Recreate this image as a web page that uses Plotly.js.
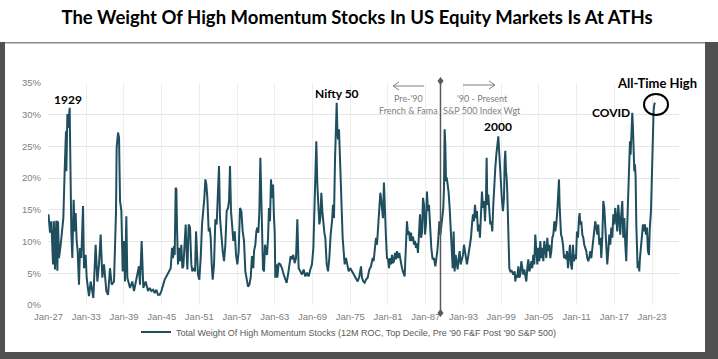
<!DOCTYPE html>
<html>
<head>
<meta charset="utf-8">
<script src="https://cdn.plot.ly/plotly-3.0.1.min.js"></script>
<style>html,body{margin:0;padding:0;background:#fff;}#chart{width:718px;height:359px;}</style>
</head>
<body>
<div id="chart"></div>
<script>
// ---- Data (decimal year, % weight) ----
const years1927 = [
1927.00,1927.24,1927.45,1927.72,1927.87,1928.03,1928.25,1928.41,1928.51,1928.67,
1928.94,1929.20,1929.36,1929.57,1929.78,1929.84,1930.00,1930.10,1930.37,1930.42,
1930.47,1930.63,1930.79,1931.00,1931.16,1931.32,1931.48,1931.64,1931.85,1932.01,
1932.22,1932.49,1932.65,1932.91,1933.07,1933.44,1933.71,1934.13,1934.50,1934.77,
1935.03,1935.30,1935.56,1935.83,1936.20,1936.47,1936.78,1937.05,1937.42,1937.74,
1937.84,1938.06,1938.22,1938.38,1938.59,1938.80,1939.01,1939.17,1939.38,1939.54,
1939.97,1940.33,1940.60,1941.02,1941.39,1941.55,1941.82,1942.08,1942.45,1942.83];
const weights1927 = [
14.3,11.4,13.2,6.4,13.2,5.6,13.3,5.4,13.2,7.4,
9.5,12.2,13.7,21.1,27.4,21.1,30.1,27.9,31.1,26.9,
21.6,11.6,7.4,16.6,11.6,14.5,10.1,8.5,3.2,9.0,
7.4,15.6,5.8,7.9,4.3,1.4,3.7,1.1,9.5,3.7,
6.4,11.1,4.3,6.4,2.2,1.6,5.8,3.2,3.7,14.8,
24.8,27.2,26.4,16.4,14.8,5.3,10.1,3.7,14.0,4.3,
2.7,3.7,2.2,4.3,6.1,3.2,10.1,2.7,3.7,2.2];

const years1943 = [
1943.10,1943.36,1943.63,1943.89,1944.16,1944.42,1944.69,1944.95,1945.22,1945.48,
1945.75,1946.01,1946.28,1946.44,1946.65,1946.81,1946.97,1947.07,1947.23,1947.34,
1947.44,1947.60,1947.76,1947.92,1948.13,1948.29,1948.45,1948.66,1948.82,1948.98,
1949.09,1949.30,1949.51,1949.72,1949.88,1950.09,1950.31,1950.47,1950.62,1950.78,
1950.99,1951.21,1951.42,1951.63,1951.79,1951.95,1952.11,1952.27,1952.48,1952.64,
1952.80,1952.96,1953.12,1953.33,1953.54,1953.75,1953.96,1954.12,1954.28,1954.50,
1954.71,1954.92,1955.13,1955.34,1955.56,1955.71,1955.87,1956.03,1956.19,1956.40,
1956.62,1956.83,1957.04,1957.25,1957.46,1957.68,1957.89,1958.10,1958.31,1958.52,
1958.74,1958.95,1959.16,1959.37,1959.58];
const weights1943 = [
2.7,2.2,2.4,1.9,2.4,1.6,1.6,2.2,3.2,4.0,
4.5,5.1,5.6,5.8,9.0,7.4,9.3,7.9,18.5,18.2,
12.2,6.4,9.0,6.9,9.5,5.8,6.1,9.5,12.7,7.9,
5.6,12.7,12.2,6.4,5.3,5.8,5.3,11.6,6.4,4.8,
4.0,7.4,12.7,14.8,16.9,19.8,19.0,16.9,11.6,12.2,
10.6,6.4,4.0,6.4,13.5,12.7,16.9,21.9,13.7,10.6,
8.5,6.9,9.5,14.8,15.3,16.4,21.9,14.8,12.7,10.1,
11.6,7.9,6.4,8.5,15.3,14.8,11.6,10.1,5.3,4.3,
2.9,3.2,4.3,7.7,5.8];

const years1959 = [
1959.69,1959.90,1960.06,1960.22,1960.38,1960.54,1960.70,1960.80,1960.96,1961.12,
1961.28,1961.44,1961.60,1961.76,1961.92,1962.07,1962.23,1962.39,1962.55,1962.71,
1962.87,1962.98,1963.08,1963.24,1963.40,1963.61,1963.88,1964.14,1964.41,1964.67,
1964.88,1965.10,1965.31,1965.52,1965.73,1965.94,1966.16,1966.37,1966.58,1966.69,
1966.79,1967.06,1967.32,1967.59,1967.85,1968.12,1968.38,1968.65,1968.91,1969.13,
1969.29,1969.44,1969.60,1969.76,1969.92,1970.08,1970.24,1970.40,1970.56,1970.72,
1970.88,1971.03,1971.25,1971.46,1971.67,1971.88,1972.10,1972.25,1972.41,1972.57,
1972.73,1972.84,1972.94,1973.05,1973.21,1973.37,1973.53,1973.69,1973.79,1973.95,
1974.11,1974.32,1974.53,1974.75,1975.01,1975.28,1975.54,1975.81,1976.07];
const weights1959 = [
8.5,9.5,11.6,12.2,11.4,14.8,23.2,18.5,10.6,5.6,
5.3,9.5,8.5,7.9,10.6,15.3,13.2,19.8,16.9,19.0,
13.7,11.6,4.3,6.4,4.3,6.6,6.4,5.8,4.8,4.0,
3.5,4.8,6.4,7.7,7.2,7.9,6.6,7.4,13.5,8.5,
5.8,5.3,4.8,5.6,4.5,5.1,4.5,5.6,6.4,9.0,
13.7,19.0,25.8,19.0,15.8,12.7,13.7,17.7,14.8,12.7,
11.4,10.6,6.4,5.3,7.4,11.1,13.2,15.8,13.7,22.7,
27.9,31.9,27.9,26.1,27.7,22.2,17.9,13.7,10.6,8.5,
6.4,7.4,6.4,5.3,5.8,5.3,4.8,4.3,4.0];

const years1976 = [
1976.18,1976.44,1976.71,1976.86,1977.08,1977.29,1977.50,1977.77,1978.03,1978.30,
1978.56,1978.72,1978.88,1979.09,1979.25,1979.41,1979.62,1979.78,1979.89,1980.05,
1980.20,1980.36,1980.52,1980.68,1980.84,1981.00,1981.16,1981.32,1981.48,1981.64,
1981.80,1981.95,1982.11,1982.27,1982.43,1982.59,1982.80,1983.01,1983.23,1983.44,
1983.65,1983.86,1984.02,1984.18,1984.34,1984.50,1984.66,1984.82,1984.98,1985.14,
1985.29,1985.45,1985.61,1985.77,1985.93,1986.09,1986.25,1986.41,1986.57,1986.73,
1986.89,1987.04,1987.20,1987.36,1987.52,1987.68,1987.89,1988.10,1988.32,1988.53,
1988.69,1988.85,1989.01,1989.17,1989.33,1989.48,1989.64,1989.80,1989.91,1990.01,
1990.12,1990.23,1990.33,1990.49,1990.65,1990.81,1990.97,1991.13,1991.29,1991.44,
1991.60,1991.76,1991.92,1992.08,1992.24,1992.40,1992.56,1992.77];
const weights1976 = [
3.7,4.5,6.1,4.3,3.7,3.5,4.0,4.3,5.6,6.1,
7.4,6.9,9.0,10.6,9.5,12.2,14.8,17.7,16.9,14.8,
13.7,19.3,13.7,10.6,7.4,7.2,5.8,7.4,6.4,7.9,
6.6,6.9,8.2,7.2,8.5,7.4,8.2,6.6,5.8,5.1,
4.5,9.5,13.2,11.1,11.6,10.1,11.4,10.1,10.8,9.5,
10.1,9.0,9.7,8.2,10.6,14.3,10.6,11.4,16.9,15.8,
11.1,12.7,17.9,14.8,15.8,11.9,9.0,7.2,7.4,6.1,
7.2,8.5,10.6,13.2,11.1,12.7,13.2,15.3,18.5,27.7,
25.3,19.5,20.1,19.0,17.7,15.3,11.1,6.9,5.8,11.6,
5.3,7.9,6.4,5.6,7.4,8.5,6.4,7.4];

const years1993 = [
1992.93,1993.09,1993.25,1993.40,1993.56,1993.72,1993.88,1994.04,1994.20,1994.36,
1994.52,1994.68,1994.84,1995.00,1995.15,1995.31,1995.47,1995.63,1995.79,1995.95,
1996.11,1996.27,1996.43,1996.59,1996.69,1996.80,1996.96,1997.12,1997.27,1997.43,
1997.59,1997.75,1997.91,1998.07,1998.23,1998.39,1998.55,1998.65,1998.81,1998.97,
1999.13,1999.29,1999.45,1999.56,1999.66,1999.77,1999.87,1999.98,2000.09,2000.19,
2000.30,2000.46,2000.67,2000.93,2001.15,2001.25,2001.41,2001.57,2001.73,2001.89,
2002.05,2002.21,2002.37,2002.52,2002.68,2002.84,2003.00,2003.16,2003.32,2003.48,
2003.64,2003.80,2003.96,2004.11,2004.27,2004.43,2004.59,2004.75,2004.91,2005.07,
2005.23,2005.39,2005.55,2005.71,2005.86,2006.02,2006.18,2006.34,2006.50,2006.66,
2006.82,2006.98,2007.14,2007.30,2007.46,2007.61,2007.77,2007.93,2008.09,2008.20,
2008.30,2008.41,2008.52,2008.68,2008.84,2009.00];
const weights1993 = [
7.9,9.5,8.5,7.2,6.4,7.4,8.5,9.5,10.6,12.7,
14.3,13.2,15.8,13.7,14.8,11.6,12.7,10.6,14.8,17.9,
15.3,16.4,13.2,16.9,23.2,15.8,17.4,13.7,12.7,13.2,
11.6,15.8,20.1,21.6,23.7,25.3,26.6,24.8,21.1,18.5,
16.4,14.8,16.9,22.7,24.3,21.1,20.1,17.7,13.7,9.5,
5.8,5.3,5.4,4.8,5.3,3.7,4.8,4.3,6.1,4.3,
4.8,6.9,5.8,4.8,5.6,4.3,3.7,5.8,7.2,5.3,
5.8,6.9,5.8,7.9,6.4,11.1,7.4,6.4,9.0,6.9,
10.1,7.4,9.0,6.9,10.1,8.5,7.4,10.6,8.5,9.5,
7.4,8.5,10.6,11.1,13.2,11.6,12.7,14.8,18.5,19.8,
15.8,13.7,11.1,10.6,9.5,7.4];

const years2009 = [
2009.15,2009.31,2009.47,2009.63,2009.79,2009.94,2010.10,2010.26,2010.42,2010.58,
2010.74,2010.90,2011.06,2011.22,2011.38,2011.48,2011.59,2011.75,2011.91,2012.07,
2012.22,2012.38,2012.54,2012.70,2012.86,2013.02,2013.18,2013.34,2013.50,2013.66,
2013.82,2013.97,2014.13,2014.29,2014.45,2014.61,2014.77,2014.93,2015.09,2015.25,
2015.41,2015.56,2015.72,2015.88,2016.04,2016.20,2016.36,2016.52,2016.68,2016.84,
2017.00,2017.15,2017.31,2017.47,2017.63,2017.79,2017.95,2018.11,2018.27,2018.43,
2018.59,2018.75,2018.90,2019.06,2019.22,2019.38,2019.49,2019.59,2019.75,2019.86,
2019.97,2020.07,2020.18,2020.28,2020.39,2020.50,2020.60,2020.71,2020.87,2020.97,
2021.08,2021.24,2021.40,2021.56,2021.72,2021.87,2022.03,2022.19,2022.35,2022.51,
2022.62,2022.72,2022.83,2022.93,2023.04,2023.15,2023.25,2023.36,2023.46];
const weights2009 = [
7.9,7.2,8.5,5.8,7.4,9.5,6.4,5.6,9.5,6.9,
7.9,7.2,11.6,10.6,13.7,14.5,12.7,13.2,11.1,10.6,
9.5,9.0,8.5,7.4,6.9,7.4,8.5,7.4,9.0,9.5,
11.6,13.2,12.2,11.1,12.7,9.5,10.6,7.4,10.6,16.4,
15.3,12.7,8.5,6.4,8.5,11.1,9.5,12.2,10.6,14.3,
12.7,15.3,13.7,11.6,15.8,13.2,11.1,14.3,16.4,10.6,
13.7,9.5,6.9,12.7,18.5,22.2,25.8,23.7,26.9,30.3,
27.9,24.8,21.1,22.2,20.1,12.7,6.4,5.8,6.9,5.3,
7.4,9.5,11.1,12.7,11.6,12.7,11.1,12.2,8.5,7.9,
11.6,13.2,14.8,18.5,24.3,28.5,30.6,31.6,31.9];

const tickYears  = [1927,1933,1939,1945,1951,1957,1963,1969,1975,1981,1987,1993,1999,2005,2011,2017,2023];
const tickLabels = ['Jan-27','Jan-33','Jan-39','Jan-45','Jan-51','Jan-57','Jan-63','Jan-69','Jan-75','Jan-81','Jan-87','Jan-93','Jan-99','Jan-05','Jan-11','Jan-17','Jan-23'];
const seriesName = "Total Weight Of High Momentum Stocks (12M ROC, Top Decile, Pre '90 F&F Post '90 S&P 500)";
const dividerYear = 1989.35;

const years = [].concat(years1927, years1943, years1959, years1976, years1993, years2009);
const weights = [].concat(weights1927, weights1943, weights1959, weights1976, weights1993, weights2009);

// ---- Layout geometry (pixels) ----
const L = 48, R = 39, T = 83, B = 54, FW = 718, FH = 359;
const W = FW - L - R, H = FH - T - B;
const px = x => (x - L) / W;
const py = y => (T + H - y) / H;
const yrPerPx = (2027.29 - 1926.92) / W;

const grey = '#595959';
const frame = '#505050';
const shapes = [
  {type:'rect', xref:'paper', yref:'paper', x0:px(0), x1:px(FW), y0:py(43.5), y1:py(42), fillcolor:'#8c8c8c', line:{width:0}, layer:'above'},
  {type:'rect', xref:'paper', yref:'paper', x0:px(0), x1:px(5), y0:py(FH), y1:py(42), fillcolor:frame, line:{width:0}, layer:'above'},
  {type:'rect', xref:'paper', yref:'paper', x0:px(705), x1:px(FW), y0:py(FH), y1:py(42), fillcolor:frame, line:{width:0}, layer:'above'},
  {type:'rect', xref:'paper', yref:'paper', x0:px(0), x1:px(FW), y0:py(FH), y1:py(352), fillcolor:frame, line:{width:0}, layer:'above'},
  // divider
  {type:'line', xref:'x', yref:'paper', x0:dividerYear, x1:dividerYear, y0:py(313), y1:py(81), line:{color:grey, width:1.5}},
  {type:'path', xref:'x', yref:'paper', fillcolor:grey, line:{color:grey, width:0},
    path:`M ${dividerYear-3*yrPerPx},${py(81)} L ${dividerYear},${py(77)} L ${dividerYear+3*yrPerPx},${py(81)} L ${dividerYear},${py(85)} Z`},
  {type:'path', xref:'x', yref:'paper', fillcolor:grey, line:{color:grey, width:0},
    path:`M ${dividerYear-3*yrPerPx},${py(313)} L ${dividerYear},${py(309)} L ${dividerYear+3*yrPerPx},${py(313)} L ${dividerYear},${py(317)} Z`},
  // arrows
  {type:'path', xref:'paper', yref:'paper', line:{color:'#808080', width:1},
    path:`M ${px(424)},${py(86)} L ${px(393)},${py(86)} M ${px(399)},${py(82)} L ${px(393)},${py(86)} L ${px(399)},${py(90)}`},
  {type:'path', xref:'paper', yref:'paper', line:{color:'#808080', width:1},
    path:`M ${px(463)},${py(85)} L ${px(495)},${py(85)} M ${px(489)},${py(81)} L ${px(495)},${py(85)} L ${px(489)},${py(89)}`},
  // circle
  {type:'circle', xref:'paper', yref:'paper', x0:px(644), x1:px(668), y0:py(115), y1:py(94), line:{color:'#000', width:2}}
];

const boldFont = (s) => ({family:'Lato, "Open Sans", sans-serif', size:s, color:'#000', weight:'bold'});
const noteFont = {family:'Lato, "Open Sans", sans-serif', size:9, color:'#7f7f7f'};
const ann = (text, x, y, font) => ({text, xref:'paper', yref:'paper', x:px(x), y:py(y), xanchor:'center', yanchor:'middle', showarrow:false, font});
const annotations = [
  ann('1929', 68, 99, boldFont(12)),
  ann('Nifty 50', 337, 93, boldFont(12)),
  ann('2000', 498, 126, boldFont(12)),
  ann('COVID', 611, 112, boldFont(12)),
  ann('All-Time High', 657, 83, boldFont(13)),
  ann("Pre-'90", 408, 98, noteFont),
  ann('French &amp; Fama', 408, 110, noteFont),
  ann("'90 - Present", 482, 98, noteFont),
  ann('S&amp;P 500 Index Wgt', 482, 110, noteFont)
];

const tickFont = {family:'"Liberation Sans", Arial, sans-serif', size:9.5, color:'#808080'};

const data = [{
  x: years, y: weights, type:'scatter', mode:'lines', name: seriesName,
  line:{color:'#1F4E5F', width:2}, hoverinfo:'skip'
}];

const layout = {
  width: FW, height: FH,
  margin:{l:L, r:R, t:T, b:B, pad:0},
  paper_bgcolor:'#fff', plot_bgcolor:'#fff',
  title:{text:'The Weight Of High Momentum Stocks In US Equity Markets Is At ATHs',
    xref:'container', yref:'container', x:357/FW, xanchor:'center', y:1-18/FH, yanchor:'middle',
    font:{family:'Lato, "Open Sans", sans-serif', size:18.5, color:'#000', weight:'bold'}},
  xaxis:{range:[1926.92, 2027.29], tickvals:tickYears, ticktext:tickLabels, showgrid:true, gridcolor:'#eeeeee',
    zeroline:false, showline:false, ticks:'', tickfont:tickFont, ticklabelstandoff:4, fixedrange:true},
  yaxis:{range:[0,35], dtick:5, ticksuffix:'%', showgrid:true, gridcolor:'#e6e6e6', zeroline:false, showline:false,
    ticks:'', tickfont:tickFont, ticklabelstandoff:6, fixedrange:true},
  showlegend:true,
  legend:{orientation:'h', x:px(136), xanchor:'left', y:py(332), yanchor:'middle', font:{family:'"Liberation Sans", Arial, sans-serif', size:9, color:grey}, bgcolor:'rgba(0,0,0,0)'},
  shapes, annotations
};

Plotly.newPlot('chart', data, layout, {displayModeBar:false, staticPlot:true});
</script>
</body>
</html>
